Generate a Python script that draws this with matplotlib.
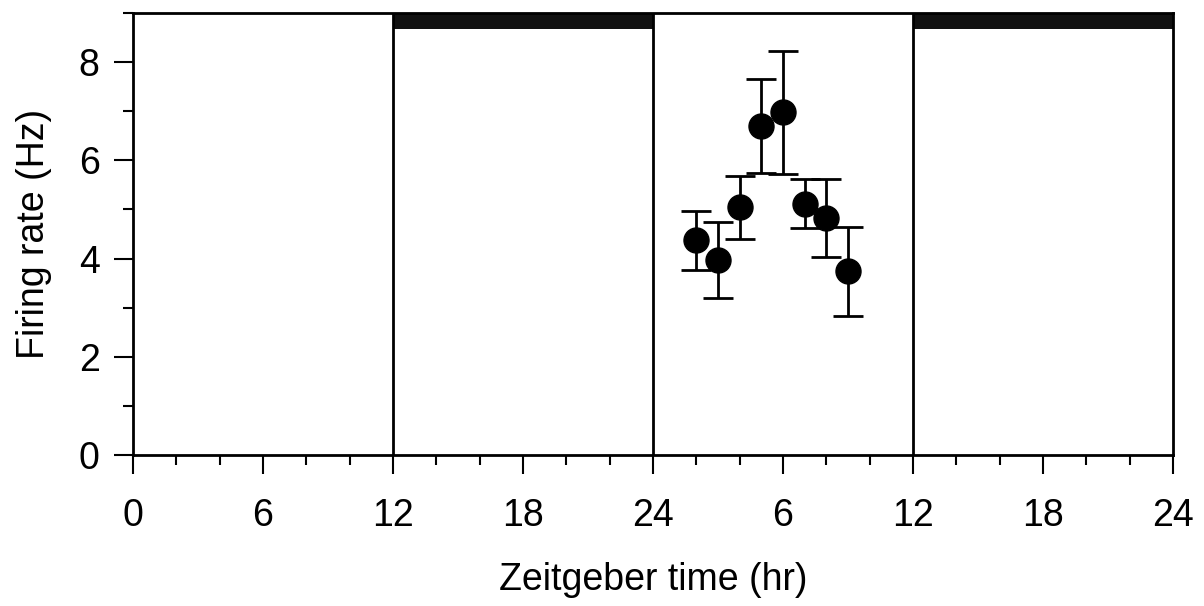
import matplotlib
matplotlib.use("Agg")
import matplotlib.pyplot as plt
from matplotlib.ticker import MultipleLocator

plt.rcParams['font.family'] = ['Liberation Sans', 'DejaVu Sans']

# zeitgeber hours on a continuous 0-48 axis
hours = [26, 27, 28, 29, 30, 31, 32, 33]
rate = [4.37, 3.97, 5.04, 6.70, 6.98, 5.12, 4.82, 3.74]
sem = [0.60, 0.78, 0.65, 0.95, 1.25, 0.50, 0.79, 0.90]

tick_pos = [0, 6, 12, 18, 24, 30, 36, 42, 48]
tick_lab = ['0', '6', '12', '18', '24', '6', '12', '18', '24']
dark_periods = [(12, 24), (36, 48)]
day_bounds = [12, 24, 36]

fig = plt.figure(figsize=(12.04, 6.06), dpi=100)
ax = fig.add_axes([0.1105, 0.2492, 0.8638, 0.7293])

ax.set_xlim(0, 48)
ax.set_ylim(0, 9)

# dark bars at top
for a, b in dark_periods:
    ax.fill_between([a, b], 8.67, 9, color='#111111', lw=0)

for xv in day_bounds:
    ax.axvline(xv, color='black', lw=2)

ax.errorbar(hours, rate, yerr=sem, fmt='o', color='black', ms=18,
            elinewidth=2, capsize=11, capthick=2)

ax.set_xticks(tick_pos)
ax.set_xticklabels(tick_lab)
ax.xaxis.set_minor_locator(MultipleLocator(2))
ax.set_yticks([0, 2, 4, 6, 8])
ax.yaxis.set_minor_locator(MultipleLocator(1))

ax.tick_params(which='major', length=14, width=1.5, labelsize=27, direction='out')
ax.tick_params(which='minor', length=7, width=1.5, direction='out')
ax.tick_params(axis='x', pad=17)
ax.tick_params(axis='y', pad=10)

for s in ax.spines.values():
    s.set_linewidth(2)

ax.set_xlabel('Zeitgeber time (hr)', fontsize=27, labelpad=20)
ax.set_ylabel('Firing rate (Hz)', fontsize=27, labelpad=19)

fig.savefig('out.png', dpi=100)
